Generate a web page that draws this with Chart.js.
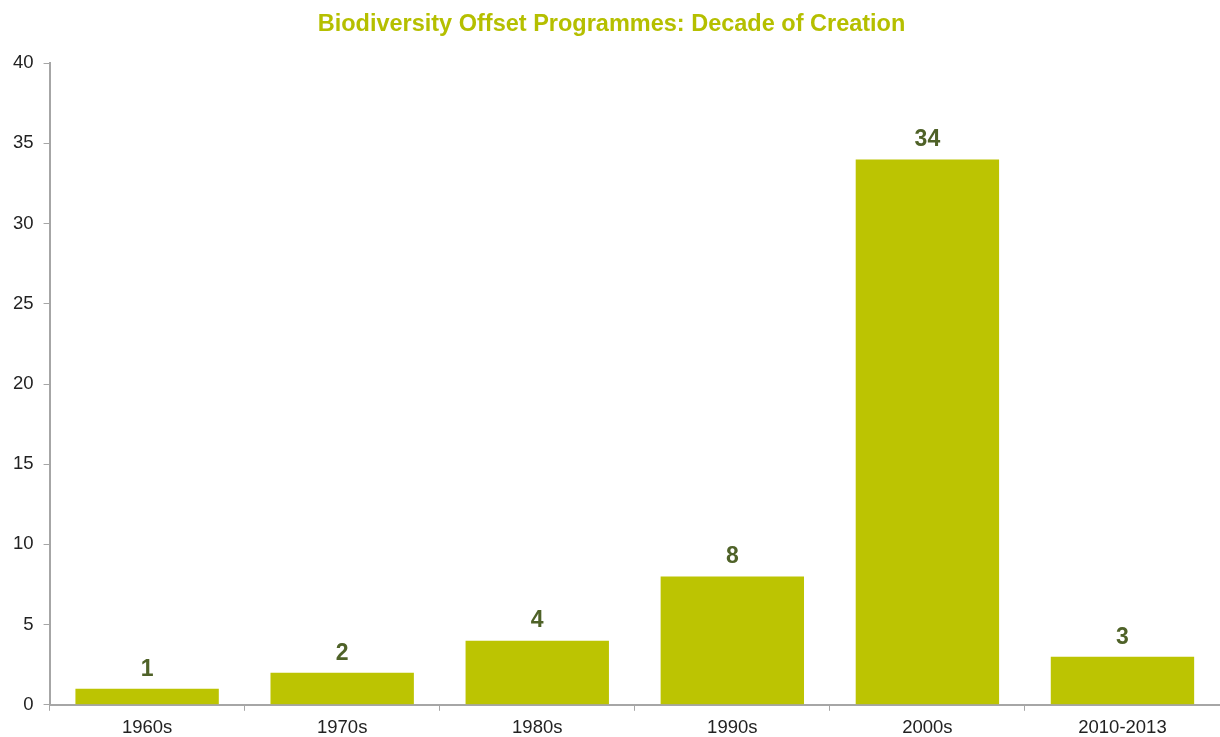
<!DOCTYPE html>
<html>
<head>
<meta charset="utf-8">
<script src="https://cdn.jsdelivr.net/npm/chart.js@4/dist/chart.umd.min.js"></script>
<style>
  html, body { margin: 0; padding: 0; background: #fff; }
  #wrap { width: 1220px; height: 737px; }
</style>
</head>
<body>
<div id="wrap"><canvas id="canvas"></canvas></div>
<script>
// chart data
const decades = ['1960s', '1970s', '1980s', '1990s', '2000s', '2010-2013'];
const programmes = [1, 2, 4, 8, 34, 3];
const yTicks = [0, 5, 10, 15, 20, 25, 30, 35, 40];

const barColour = '#BCC402';
const labelColour = '#4F6228';

// draws the value above each bar
const valueLabels = {
    id: 'valueLabels',
    afterDatasetsDraw(chart) {
        const ctx = chart.ctx;
        const meta = chart.getDatasetMeta(0);
        ctx.save();
        ctx.font = 'bold 23px "Liberation Sans", Arial, sans-serif';
        ctx.fillStyle = labelColour;
        ctx.textAlign = 'center';
        ctx.textBaseline = 'bottom';
        meta.data.forEach((bar, i) => {
            ctx.fillText(programmes[i], bar.x, bar.y - 8);
        });
        ctx.restore();
    }
};

let ctx = document.getElementById('canvas').getContext('2d');

let myBarChart = new Chart(ctx, {
    type: 'bar',
    data: {
        labels: decades,
        datasets: [{
            data: programmes,
            backgroundColor: barColour,
            borderWidth: 0,
            barPercentage: 0.735,
            categoryPercentage: 1
        }]
    },
    options: {
        responsive: true,
        maintainAspectRatio: false,
        animation: false,
        layout: { padding: { left: 3, right: 0, top: 0, bottom: -8 } },
        plugins: {
            legend: { display: false },
            tooltip: { enabled: false },
            title: {
                display: true,
                text: 'Biodiversity Offset Programmes: Decade of Creation',
                color: '#B5BF00',
                font: { family: '"Liberation Sans", Arial, sans-serif', size: 23.5, weight: 'bold' },
                padding: { top: 10, bottom: 25 }
            }
        },
        scales: {
            x: {
                grid: {
                    display: true,
                    offset: true,
                    drawOnChartArea: false,
                    color: '#A6A6A6',
                    tickLength: 6
                },
                border: { color: '#A6A6A6', width: 2 },
                ticks: {
                    color: '#222',
                    padding: 6,
                    font: { family: '"Liberation Sans", Arial, sans-serif', size: 18.5 }
                }
            },
            y: {
                min: 0,
                max: 40,
                afterBuildTicks(scale) {
                    scale.ticks = yTicks.map(v => ({ value: v }));
                },
                grid: {
                    display: true,
                    drawOnChartArea: false,
                    color: '#A6A6A6',
                    tickLength: 6
                },
                border: { color: '#A6A6A6', width: 2 },
                ticks: {
                    color: '#222',
                    padding: 10,
                    font: { family: '"Liberation Sans", Arial, sans-serif', size: 18.5 }
                }
            }
        }
    },
    plugins: [valueLabels]
});
</script>
</body>
</html>
